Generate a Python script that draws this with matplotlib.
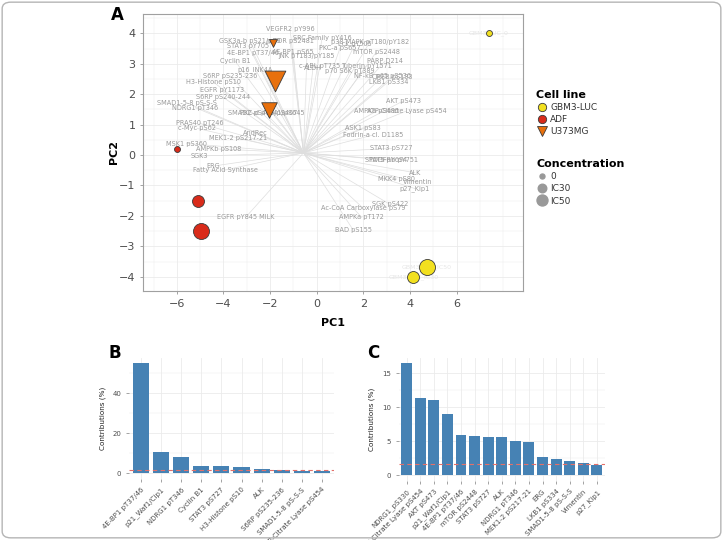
"""PCA biplot with contribution bar charts (panels A, B, C)."""

import matplotlib.pyplot as plt
from matplotlib.lines import Line2D
from matplotlib.patches import FancyBboxPatch
from matplotlib.ticker import MultipleLocator

# ---- panel A: individuals ----
cell_lines = ["GBM3-LUC", "GBM3-LUC", "GBM3-LUC", "ADF", "ADF", "ADF", "U373MG", "U373MG", "U373MG"]
concentrations = ["0", "IC30", "IC50", "0", "IC30", "IC50", "0", "IC30", "IC50"]
pc1_ind = [7.39, 4.14, 4.71, -6.0, -5.07, -4.97, -1.89, -2.03, -1.79]
pc2_ind = [4.01, -4.01, -3.68, 0.2, -1.5, -2.49, 3.69, 1.48, 2.43]

# ---- panel A: variables (loadings, label positions) ----
var_names = [
    "VEGFR2 pY996", "GSK3a-b pS21/pS9", "STAT3 pY705", "mTOR pS2481", "SRC Family pY416",
    "4E-BP1 pT37/46", "4E-BP1 pS65", "JNK pT183/pY185", "c-ABL pT735", "ALDH",
    "Cyclin B1", "p16_INK4A", "S6RP pS235-236", "H3-Histone pS10", "EGFR pY1173",
    "S6RP pS240-244", "SMAD1-5-8 pS-S-S", "NDRG1 pT346", "SMAD2 pS465/pS467", "PKC-d pT641/pS645",
    "PRAS40 pT246", "c-Myc pS62", "AndRec", "MEK1-2 pS217-21", "MSK1 pS360",
    "AMPKb pS108", "SGK3", "ERG", "Fatty Acid Synthase", "EGFR pY845 MILK",
    "p38 MAPK pT180/pY182", "mTOR pS2448", "Lck pY505", "PKC-a pS657", "PARP D214",
    "Tuberin pY1571", "p70 S6K pT389", "NF-kB p65 pS536", "CREB pS133", "LKB1 pS334",
    "AKT pS473", "ATP-Citrate Lyase pS454", "AMPKa pS485", "ASK1 pS83", "Fodrin-a cl. D1185",
    "STAT3 pS727", "STAT5 pY694", "PDGFRb pY751", "ALK", "MKK4 pS80",
    "Vimentin", "p27_Kip1", "SGK pS422", "Ac-CoA Carboxylase pS79", "AMPKa pT172",
    "BAD pS155",
]
var_pc1 = [
    -1.14, -2.86, -2.94, -1.14, 0.23,
    -2.73, -1.01, -0.42, 0.14, -0.16,
    -3.50, -2.64, -3.71, -4.44, -4.07,
    -4.01, -5.57, -5.21, -2.34, -1.90,
    -5.00, -5.14, -2.64, -3.36, -5.57,
    -4.21, -5.03, -4.43, -3.93, -3.03,
    2.28, 2.57, 1.64, 1.00, 2.93,
    2.14, 1.43, 2.84, 3.22, 3.07,
    3.71, 3.85, 2.57, 2.00, 2.42,
    3.21, 2.97, 3.31, 4.21, 3.43,
    4.35, 4.21, 3.14, 2.00, 1.93,
    1.57,
]
var_pc2 = [
    4.13, 3.75, 3.60, 3.75, 3.85,
    3.37, 3.39, 3.26, 2.94, 2.86,
    3.09, 2.82, 2.60, 2.41, 2.14,
    1.90, 1.72, 1.56, 1.38, 1.38,
    1.04, 0.88, 0.71, 0.55, 0.38,
    0.20, -0.03, -0.36, -0.49, -2.03,
    3.72, 3.40, 3.65, 3.52, 3.09,
    2.94, 2.76, 2.60, 2.57, 2.41,
    1.78, 1.45, 1.45, 0.90, 0.66,
    0.22, -0.16, -0.16, -0.58, -0.79,
    -0.90, -1.10, -1.62, -1.75, -2.05,
    -2.47,
]
arrow_origin = (-0.57, 0.07)

# ---- panel B / C: contributions ----
contrib_b_names = [
    "4E-BP1 pT37/46", "p21_Waf1/Cip1", "NDRG1 pT346", "Cyclin B1", "STAT3 pS727",
    "H3-Histone pS10", "ALK", "S6RP pS235-236", "SMAD1-5-8 pS-S-S", "ATP-Citrate Lyase pS454",
]
contrib_b = [55.0, 10.5, 8.0, 3.8, 3.7, 3.3, 2.2, 1.6, 1.2, 1.0]

contrib_c_names = [
    "NDRG1_pS330", "ATP-Citrate Lyase pS454", "AKT pS473", "p21_Waf1/Cip1", "4E-BP1 pT37/46",
    "mTOR pS2448", "STAT3 pS727", "ALK", "NDRG1 pT346", "MEK1-2 pS217-21",
    "ERG", "LKB1 pS334", "SMAD1-5-8 pS-S-S", "Vimentin", "p27_Kip1",
]
contrib_c = [16.5, 11.3, 11.1, 9.0, 5.9, 5.8, 5.6, 5.6, 5.0, 4.8, 2.7, 2.4, 2.0, 1.7, 1.5]
expected_contrib = 1.6

CELL_COLORS = {"GBM3-LUC": "#F2E01F", "ADF": "#D92B1A", "U373MG": "#E8700C"}
CELL_MARKERS = {"GBM3-LUC": "o", "ADF": "o", "U373MG": "v"}
CONC_DIAM = {"0": 4.3, "IC30": 8.6, "IC50": 11.5}  # points
GRID = "#ebebeb"
TEXT = "#4d4d4d"


def style_minimal(ax):
    for side in ax.spines.values():
        side.set_visible(False)
    ax.grid(True, which="major", color=GRID, lw=0.6)
    ax.grid(True, which="minor", color=GRID, lw=0.3)
    ax.set_axisbelow(True)
    ax.tick_params(which="both", colors="#7f7f7f", labelcolor=TEXT, length=2, width=0.5)
    ax.tick_params(which="minor", length=0)


def draw_biplot(ax):
    style_minimal(ax)
    for side in ax.spines.values():
        side.set_visible(True)
        side.set_color("#a0a0a0")
        side.set_linewidth(0.8)

    for name, x, y in zip(var_names, var_pc1, var_pc2):
        ax.plot([arrow_origin[0], x], [arrow_origin[1], y], color="#dedede", lw=0.5, zorder=1)
        ax.text(x, y, name, fontsize=4.7, color="#999999", ha="center", va="center", zorder=2)

    for cl, conc, x, y in zip(cell_lines, concentrations, pc1_ind, pc2_ind):
        diam = CONC_DIAM[conc]
        if CELL_MARKERS[cl] == "v":
            diam *= 1.3
        if cl == "GBM3-LUC":
            ax.text(x, y, f"{cl}_{conc}", fontsize=4.5, color="#e6e6e6", ha="center",
                    va="center", zorder=2)
        ax.scatter(x, y, s=diam ** 2, marker=CELL_MARKERS[cl], color=CELL_COLORS[cl],
                   edgecolor="#3a3a3a", linewidth=0.6, zorder=4)

    ax.set_xlim(-7.45, 8.85)
    ax.set_ylim(-4.47, 4.64)
    ax.set_xticks([-6, -4, -2, 0, 2, 4, 6])
    ax.xaxis.set_minor_locator(MultipleLocator(1))
    ax.yaxis.set_major_locator(MultipleLocator(1))
    ax.yaxis.set_minor_locator(MultipleLocator(0.5))
    ax.tick_params(labelsize=8)
    ax.tick_params(axis="x", pad=4)
    ax.set_xlabel("PC1", fontsize=8, fontweight="bold", labelpad=6)
    ax.set_ylabel("PC2", fontsize=8, fontweight="bold", labelpad=0)


def draw_contrib(ax, names, values):
    style_minimal(ax)
    pos = range(len(values))
    ax.bar(pos, values, width=0.8, color="#4682B4", zorder=2)
    ax.axhline(expected_contrib, color="#e4706a", ls=(0, (4, 3)), lw=0.8, zorder=3)
    ax.set_xlim(-0.6, len(values) - 0.4)
    ax.set_ylim(-max(values) * 0.05, max(values) * 1.05)
    ax.set_xticks(list(pos))
    ax.set_xticklabels(names, rotation=45, ha="right", rotation_mode="anchor", fontsize=5)
    ax.tick_params(axis="y", labelsize=5)
    ax.set_ylabel("Contributions (%)", fontsize=5.2, color="#222222", labelpad=5)


def main():
    fig = plt.figure(figsize=(7.23, 5.4), dpi=100)

    ax_a = fig.add_axes([0.1978, 0.4611, 0.5256, 0.513])
    draw_biplot(ax_a)

    ax_b = fig.add_axes([0.1784, 0.1133, 0.2835, 0.2241])
    draw_contrib(ax_b, contrib_b_names, contrib_b)
    ax_b.yaxis.set_major_locator(MultipleLocator(20))
    ax_b.yaxis.set_minor_locator(MultipleLocator(10))

    ax_c = fig.add_axes([0.5512, 0.11, 0.2856, 0.2278])
    draw_contrib(ax_c, contrib_c_names, contrib_c)
    ax_c.yaxis.set_major_locator(MultipleLocator(5))
    ax_c.yaxis.set_minor_locator(MultipleLocator(2.5))

    # legends
    cell_handles = [
        Line2D([], [], ls="", marker=CELL_MARKERS[c], markersize=6.5 if c == "U373MG" else 6,
               markerfacecolor=CELL_COLORS[c], markeredgecolor="#3a3a3a", markeredgewidth=0.6)
        for c in CELL_COLORS
    ]
    leg1 = fig.legend(cell_handles, list(CELL_COLORS), title="Cell line", loc="upper left",
                      bbox_to_anchor=(0.737, 0.84), frameon=False, fontsize=6.5,
                      title_fontsize=8, alignment="left", handletextpad=0.3,
                      labelspacing=0.35, borderaxespad=0, handlelength=1.2)
    leg1.get_title().set_fontweight("bold")
    for t in leg1.get_texts():
        t.set_color("#333333")

    conc_handles = [
        Line2D([], [], ls="", marker="o", markersize=d * 0.6 + 1, color="#999999")
        for d in CONC_DIAM.values()
    ]
    leg2 = fig.legend(conc_handles, list(CONC_DIAM), title="Concentration", loc="upper left",
                      bbox_to_anchor=(0.737, 0.712), frameon=False, fontsize=6.5,
                      title_fontsize=8, alignment="left", handletextpad=0.3,
                      labelspacing=0.35, borderaxespad=0, handlelength=1.2)
    leg2.get_title().set_fontweight("bold")
    for t in leg2.get_texts():
        t.set_color("#333333")

    fig.text(0.163, 0.972, "A", fontsize=12, fontweight="bold", ha="center", va="center")
    fig.text(0.159, 0.346, "B", fontsize=12, fontweight="bold", ha="center", va="center")
    fig.text(0.516, 0.346, "C", fontsize=12, fontweight="bold", ha="center", va="center")

    fig.patches.append(FancyBboxPatch((0.003, 0.004), 0.994, 0.992,
                                      boxstyle="round,pad=0,rounding_size=0.012",
                                      transform=fig.transFigure, fill=False,
                                      ec="#b5b5b5", lw=1.0))

    fig.savefig("out.png", dpi=100)
    plt.close(fig)


if __name__ == "__main__":
    main()
